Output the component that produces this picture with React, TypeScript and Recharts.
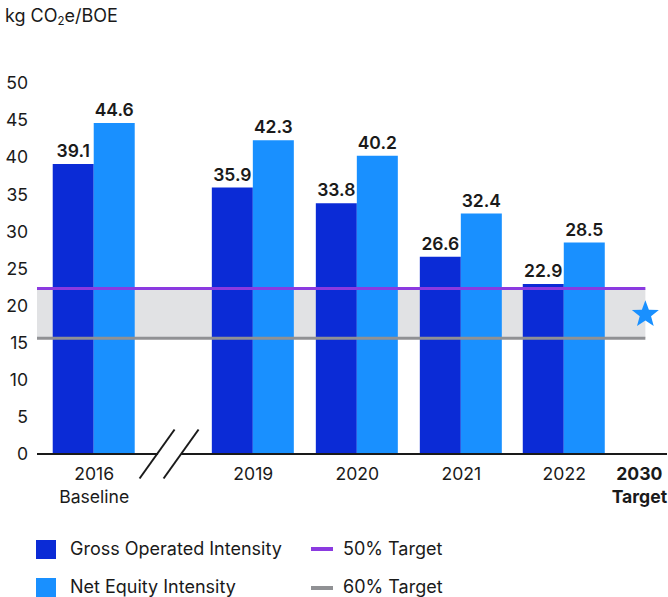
import React from 'react';
import {
  BarChart,
  Bar,
  XAxis,
  YAxis,
  ReferenceArea,
  ReferenceLine,
  ReferenceDot,
  LabelList,
} from 'recharts';

// ---- data ----
const years = ['2016', '2019', '2020', '2021', '2022'];
const yearSubLabels = ['Baseline', '', '', '', ''];
const grossOperated = [39.1, 35.9, 33.8, 26.6, 22.9];
const netEquity = [44.6, 42.3, 40.2, 32.4, 28.5];
const yTicks = [0, 5, 10, 15, 20, 25, 30, 35, 40, 45, 50];
const target50 = 22.3;
const target60 = 15.6;
const target2030Marker = 18.8;
const targetLabel = ['2030', 'Target'];
const seriesNames = ['Gross Operated Intensity', 'Net Equity Intensity'];
const targetNames = ['50% Target', '60% Target'];

// ---- layout (axis slot positions; not data) ----
const SLOT_POS = [0.55, 2.08, 3.08, 4.08, 5.07];
const BREAK_POS = 1.27;
const TARGET_POS = 5.85;
const X_MAX = 6.058;

const FONT = 'Inter, "Noto Sans", sans-serif';
const GROSS = '#0b2bd6';
const NET = '#1990ff';
const PURPLE = '#8b3ae0';
const GRAY = '#909194';
const BAND = '#e1e2e4';
const TEXT = '#1a1a1a';
const AXIS_FS = 17.6;
const LEGEND_FS = 18;

const data = years.map((y, i) => ({
  year: y,
  pos: SLOT_POS[i],
  gross: grossOperated[i],
  net: netEquity[i],
}));

const near = (a: number, b: number) => Math.abs(a - b) < 1e-6;

const XTick = (props: any) => {
  const { x, y, payload } = props;
  const v = payload.value;
  if (near(v, BREAK_POS)) {
    const h = 24.5;
    const w = 17.5;
    return (
      <g>
        <rect x={x - 11} y={y - 3} width={23} height={6} fill="#fff" />
        <line x1={x - 12 - w} y1={y + h} x2={x - 12 + w} y2={y - h} stroke={TEXT} strokeWidth={2} />
        <line x1={x + 12 - w} y1={y + h} x2={x + 12 + w} y2={y - h} stroke={TEXT} strokeWidth={2} />
      </g>
    );
  }
  if (near(v, TARGET_POS)) {
    return (
      <g>
        <text x={x - 6} y={y + 26} textAnchor="middle" fontSize={AXIS_FS} fontWeight={700} fill={TEXT} fontFamily={FONT}>
          {targetLabel[0]}
        </text>
        <text x={x - 6} y={y + 49} textAnchor="middle" fontSize={AXIS_FS} fontWeight={700} fill={TEXT} fontFamily={FONT}>
          {targetLabel[1]}
        </text>
      </g>
    );
  }
  const idx = SLOT_POS.findIndex((p) => near(p, v));
  if (idx < 0) return null;
  return (
    <g>
      <text x={x} y={y + 26} textAnchor="middle" fontSize={AXIS_FS} fill={TEXT} fontFamily={FONT}>
        {years[idx]}
      </text>
      {yearSubLabels[idx] ? (
        <text x={x} y={y + 49} textAnchor="middle" fontSize={AXIS_FS} fill={TEXT} fontFamily={FONT}>
          {yearSubLabels[idx]}
        </text>
      ) : null}
    </g>
  );
};

const Star = (props: any) => {
  const { cx, cy } = props;
  const R = 14.2;
  const r = R * 0.42;
  const pts: string[] = [];
  for (let i = 0; i < 10; i++) {
    const rad = i % 2 === 0 ? R : r;
    const a = -Math.PI / 2 + (i * Math.PI) / 5;
    pts.push(`${cx + rad * Math.cos(a)},${cy + rad * Math.sin(a)}`);
  }
  return <polygon points={pts.join(' ')} fill={NET} />;
};

export default function App() {
  return (
    <div
      style={{
        position: 'absolute',
        left: 0,
        top: 0,
        width: 668,
        height: 597,
        fontFamily: FONT,
        color: TEXT,
        background: '#fff',
        overflow: 'hidden',
      }}
    >
      <div style={{ position: 'absolute', left: 5, top: 5, fontSize: 18, lineHeight: '22px' }}>
        kg CO<sub style={{ fontSize: 11.5, verticalAlign: 'baseline', position: 'relative', top: 3 }}>2</sub>e/BOE
      </div>
      <div style={{ position: 'absolute', left: 0, top: 0 }}>
        <BarChart
          width={668}
          height={520}
          data={data}
          margin={{ top: 83, right: 1, left: 0, bottom: 0 }}
          barGap={0}
        >
          <ReferenceArea
            x1={0}
            x2={TARGET_POS}
            y1={target60}
            y2={target50}
            fill={BAND}
            fillOpacity={1}
            stroke="none"
            zIndex={50}
          />
          <XAxis
            type="number"
            dataKey="pos"
            domain={[0, X_MAX]}
            ticks={[...SLOT_POS, BREAK_POS, TARGET_POS]}
            interval={0}
            tick={<XTick />}
            tickLine={false}
            tickSize={0}
            tickMargin={0}
            axisLine={{ stroke: TEXT, strokeWidth: 2 }}
            height={66}
            allowDataOverflow
          />
          <YAxis
            type="number"
            domain={[0, 50]}
            ticks={yTicks}
            interval={0}
            width={37}
            axisLine={false}
            tickLine={false}
            tickSize={6}
            tickMargin={3}
            tick={{ fontSize: AXIS_FS, fill: TEXT, fontFamily: FONT }}
          />
          <Bar dataKey="gross" fill={GROSS} barSize={41} isAnimationActive={false} zIndex={300}>
            <LabelList
              dataKey="gross"
              position="top"
              offset={7}
              fontSize={17.5}
              fontWeight={600}
              fill={TEXT}
              fontFamily={FONT}
            />
          </Bar>
          <Bar dataKey="net" fill={NET} barSize={41} isAnimationActive={false} zIndex={300}>
            <LabelList
              dataKey="net"
              position="top"
              offset={7}
              fontSize={17.5}
              fontWeight={600}
              fill={TEXT}
              fontFamily={FONT}
            />
          </Bar>
          <ReferenceLine
            segment={[
              { x: 0, y: target50 },
              { x: TARGET_POS, y: target50 },
            ]}
            stroke={PURPLE}
            strokeWidth={3}
            zIndex={400}
          />
          <ReferenceLine
            segment={[
              { x: 0, y: target60 },
              { x: TARGET_POS, y: target60 },
            ]}
            stroke={GRAY}
            strokeWidth={3}
            zIndex={400}
          />
          <ReferenceDot
            x={TARGET_POS}
            y={target2030Marker}
            r={14}
            shape={(p: any) => <Star cx={p.cx} cy={p.cy} />}
            zIndex={500}
          />
        </BarChart>
      </div>
      {/* legend */}
      <div style={{ position: 'absolute', left: 36, top: 540, width: 20, height: 19, background: GROSS }} />
      <div style={{ position: 'absolute', left: 70, top: 538, fontSize: LEGEND_FS, lineHeight: '22px' }}>{seriesNames[0]}</div>
      <div style={{ position: 'absolute', left: 36, top: 578, width: 20, height: 19, background: NET }} />
      <div style={{ position: 'absolute', left: 70, top: 576, fontSize: LEGEND_FS, lineHeight: '22px' }}>{seriesNames[1]}</div>
      <div style={{ position: 'absolute', left: 311, top: 547, width: 22, height: 4, background: PURPLE }} />
      <div style={{ position: 'absolute', left: 343, top: 538, fontSize: LEGEND_FS, lineHeight: '22px' }}>{targetNames[0]}</div>
      <div style={{ position: 'absolute', left: 311, top: 586, width: 22, height: 4, background: GRAY }} />
      <div style={{ position: 'absolute', left: 343, top: 576, fontSize: LEGEND_FS, lineHeight: '22px' }}>{targetNames[1]}</div>
    </div>
  );
}
